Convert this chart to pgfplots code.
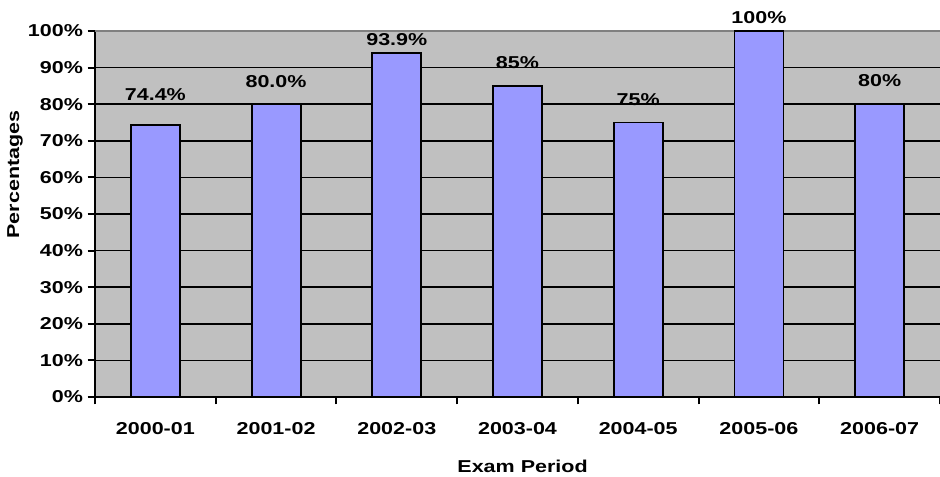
\documentclass[border=0pt]{standalone}
\usepackage{fontspec}
\setmainfont{Liberation Sans}[FakeStretch=1.25]
\usepackage{pgfplots}
\usepackage{pgfplotstable}
\pgfplotsset{compat=1.18}

\definecolor{plotgray}{HTML}{C0C0C0}
\definecolor{barblue}{HTML}{9999FF}
\definecolor{framegray}{HTML}{808080}

% x position, value, printed label, label lift above the bar (pt)
\pgfplotstableread{
x y lbl off
0 74.4 74.4 17.8
1 80.0 80.0 12.2
2 93.9 93.9 6.2
3 85 85 13.4
4 75 75 13.1
5 100 100 5.25
6 80 80 12.9
}\examdata

\begin{document}
\begin{tikzpicture}[font=\fontsize{12.9}{15}\selectfont\bfseries]
\begin{axis}[
  scale only axis,
  width=633.75pt, height=274.5pt,
  xmin=-0.5, xmax=6.5, ymin=0, ymax=100,
  clip=false,
  axis background/.style={fill=plotgray},
  axis x line*=bottom, axis y line*=left,
  axis line style={black, line width=1.4pt},
  tick align=outside,
  major tick length=5.5pt,
  tick style={black, line width=1.4pt},
  xtick={-0.5,0.5,...,6.5},
  x tick label as interval,
  xticklabels={2000-01,2001-02,2002-03,2003-04,2004-05,2005-06,2006-07},
  xticklabel style={yshift=-10pt},
  ytick={0,10,...,90},
  yticklabels={0\%,10\%,20\%,30\%,40\%,50\%,60\%,70\%,80\%,90\%},
  extra y ticks={100},
  extra y tick labels={100\%},
  extra y tick style={grid=major, major grid style={framegray, line width=1.4pt}},
  ymajorgrids=true,
  major grid style={black, line width=1.2pt},
  every axis y label/.style={at={(rel axis cs:0,0.608)}, xshift=-60pt, rotate=90, anchor=center},
  every axis x label/.style={at={(rel axis cs:0.506,0)}, yshift=-51.75pt, anchor=center},
  ylabel={Percentages},
  xlabel={Exam Period},
]
\addplot[ybar, bar width=36.75pt, fill=barblue, draw=black, line width=1.4pt,
  point meta=explicit symbolic,
  nodes near coords={\pgfplotspointmeta\%},
  visualization depends on={\thisrow{off}\as\off},
  every node near coord/.append style={anchor=base, inner sep=0pt, yshift=\off pt, text=black}]
  table[x=x, y=y, meta=lbl]{\examdata};
\coordinate (ll) at (rel axis cs:0,0);
\coordinate (ur) at (rel axis cs:1,1);
\end{axis}
\pgfresetboundingbox
\path[use as bounding box] ([shift={(-71.25pt,-60pt)}]ll) rectangle ([shift={(0pt,23.25pt)}]ur);
\end{tikzpicture}
\end{document}
